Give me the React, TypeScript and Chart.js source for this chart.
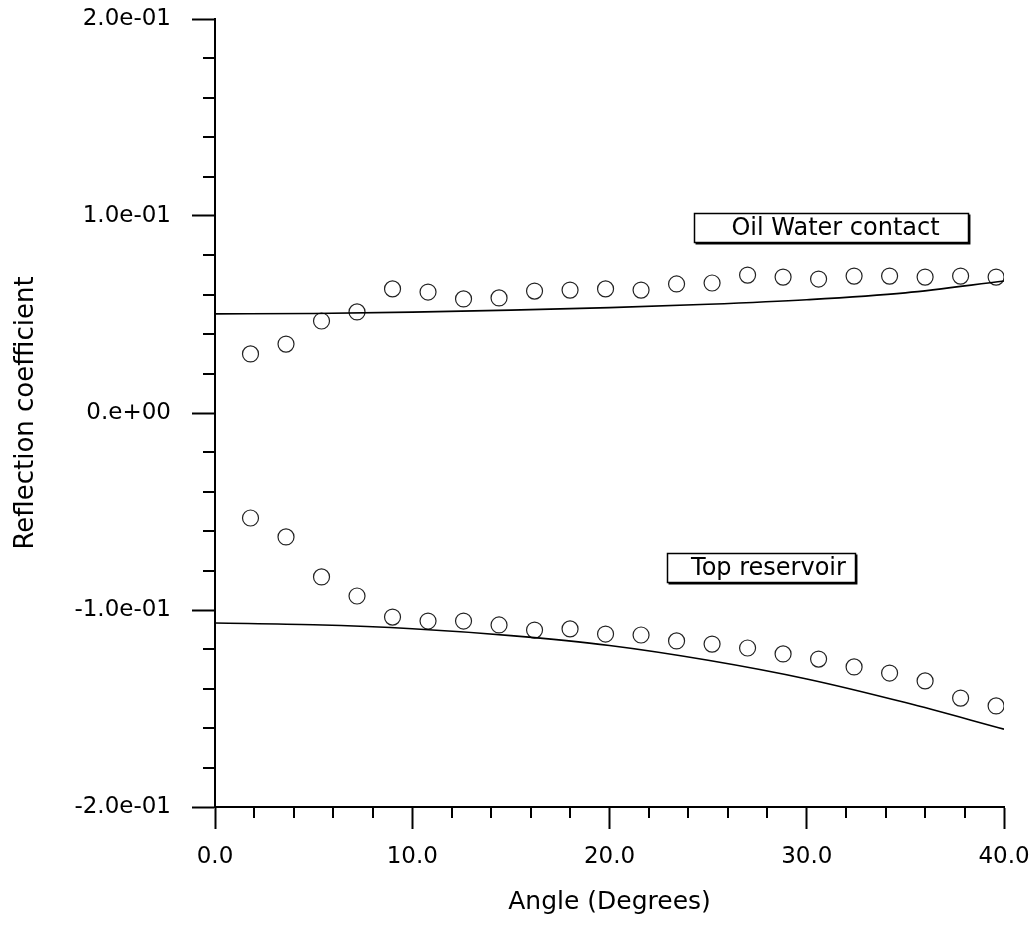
import React, { useEffect, useRef } from "react";
import { Chart, registerables } from "chart.js";

Chart.register(...registerables);

// Measured angles (degrees)
const angles = [1.8, 3.6, 5.4, 7.2, 9.0, 10.8, 12.6, 14.4, 16.2, 18.0, 19.8, 21.6, 23.4, 25.2, 27.0, 28.8, 30.6, 32.4, 34.2, 36.0, 37.8, 39.6];
// Measured reflection coefficients: Oil Water contact
const owcMeasured = [0.030, 0.035, 0.0467, 0.0513, 0.063, 0.0614, 0.0579, 0.0584, 0.0619, 0.0624, 0.063, 0.0624, 0.0655, 0.066, 0.070, 0.069, 0.068, 0.0695, 0.0695, 0.069, 0.0695, 0.069];
// Measured reflection coefficients: Top reservoir
const topMeasured = [-0.0533, -0.0629, -0.0832, -0.0929, -0.1036, -0.1056, -0.1056, -0.1076, -0.1102, -0.1096, -0.1122, -0.1127, -0.1157, -0.1173, -0.1193, -0.1223, -0.1249, -0.1289, -0.132, -0.136, -0.1447, -0.1487];

// Model curves
const modelAngles = [0, 5, 10, 15, 20, 25, 30, 35, 40];
const owcModel = [0.0503, 0.0505, 0.0512, 0.0522, 0.0535, 0.0552, 0.0575, 0.061, 0.067];
const topModel = [-0.1066, -0.1075, -0.1095, -0.113, -0.118, -0.1255, -0.135, -0.147, -0.1605];

// Axis tick labels
const xTickLabels: Record<string, string> = { "0": "0.0", "10": "10.0", "20": "20.0", "30": "30.0", "40": "40.0" };
const yTickLabels: Record<string, string> = { "0.2": "2.0e-01", "0.1": "1.0e-01", "0": "0.e+00", "-0.1": "-1.0e-01", "-0.2": "-2.0e-01" };

// Text annotations (anchor = top-left corner of box, in data units)
const annotationTexts = ["Oil Water contact", "Top reservoir"];
const annotationX = [24.28, 22.92];
const annotationY = [0.1015, -0.0711];
const annotationBoxW = [274, 188];
const annotationTextDx = [4, 7];

const FONT = "'DejaVu Sans', sans-serif";

const minorTicksPlugin = {
  id: "minorTicks",
  afterDraw(chart: any) {
    const ctx = chart.ctx;
    const xs = chart.scales.x;
    const ys = chart.scales.y;
    ctx.save();
    ctx.strokeStyle = "#000";
    ctx.lineWidth = 2;
    ctx.beginPath();
    for (let v = 0; v <= 40; v += 2) {
      if (v % 10 === 0) continue;
      const px = Math.round(xs.getPixelForValue(v));
      ctx.moveTo(px, xs.top);
      ctx.lineTo(px, xs.top + 11);
    }
    for (let i = -10; i <= 10; i++) {
      if (i % 5 === 0) continue;
      const py = Math.round(ys.getPixelForValue(i * 0.02));
      ctx.moveTo(ys.right, py);
      ctx.lineTo(ys.right - 12, py);
    }
    ctx.stroke();

    // annotations
    ctx.font = `24px ${FONT}`;
    ctx.textBaseline = "middle";
    ctx.textAlign = "center";
    for (let i = 0; i < annotationTexts.length; i++) {
      const bx = Math.round(xs.getPixelForValue(annotationX[i])) + 0.5;
      const by = Math.round(ys.getPixelForValue(annotationY[i])) + 0.5;
      const bw = annotationBoxW[i];
      const bh = 29;
      ctx.fillStyle = "#fff";
      ctx.fillRect(bx, by, bw, bh);
      ctx.lineWidth = 1.5;
      ctx.strokeStyle = "#000";
      ctx.strokeRect(bx, by, bw, bh);
      ctx.beginPath();
      ctx.moveTo(bx + bw + 1.2, by + 1);
      ctx.lineTo(bx + bw + 1.2, by + bh + 1.2);
      ctx.lineTo(bx + 1, by + bh + 1.2);
      ctx.stroke();
      ctx.fillStyle = "#000";
      ctx.fillText(annotationTexts[i], bx + bw / 2 + annotationTextDx[i], by + bh / 2 + 1);
    }
    ctx.restore();
  },
};

export default function App() {
  const ref = useRef<HTMLCanvasElement>(null);
  useEffect(() => {
    if (!ref.current) return;
    const toPts = (xs: number[], ys: number[]) => xs.map((x, i) => ({ x, y: ys[i] }));
    const chart = new Chart(ref.current, {
      type: "scatter",
      data: {
        datasets: [
          {
            label: "OWC model",
            data: toPts(modelAngles, owcModel),
            showLine: true,
            borderColor: "#000",
            borderWidth: 1.6,
            pointRadius: 0,
            cubicInterpolationMode: "monotone",
          },
          {
            label: "Top model",
            data: toPts(modelAngles, topModel),
            showLine: true,
            borderColor: "#000",
            borderWidth: 1.6,
            pointRadius: 0,
            cubicInterpolationMode: "monotone",
          },
          {
            label: "OWC measured",
            data: toPts(angles, owcMeasured),
            showLine: false,
            pointRadius: 8,
            pointBorderWidth: 1.2,
            pointBorderColor: "#222",
            pointBackgroundColor: "rgba(0,0,0,0)",
          },
          {
            label: "Top measured",
            data: toPts(angles, topMeasured),
            showLine: false,
            pointRadius: 8,
            pointBorderWidth: 1.2,
            pointBorderColor: "#222",
            pointBackgroundColor: "rgba(0,0,0,0)",
          },
        ],
      },
      options: {
        responsive: false,
        animation: false,
        layout: { padding: { top: 19, right: 32, left: 0, bottom: 0 } },
        plugins: { legend: { display: false }, tooltip: { enabled: false } },
        scales: {
          x: {
            type: "linear",
            min: 0,
            max: 40,
            afterFit: (s: any) => { s.height = 119; s.paddingLeft = 0; s.paddingRight = 0; },
            border: { display: true, color: "#000", width: 2 },
            grid: { drawOnChartArea: false, drawTicks: true, tickLength: 22, tickColor: "#000", tickWidth: 2 },
            ticks: {
              stepSize: 10,
              padding: 14,
              color: "#000",
              font: { family: FONT, size: 23 },
              maxRotation: 0,
              callback: (v: any) => xTickLabels[String(v)] ?? "",
            },
            title: {
              display: true,
              text: "Angle (Degrees)",
              color: "#000",
              font: { family: FONT, size: 25 },
              padding: { top: 0, bottom: 9 },
            },
          },
          y: {
            type: "linear",
            min: -0.2,
            max: 0.2,
            afterFit: (s: any) => { s.width = 215; s.paddingTop = 0; s.paddingBottom = 0; },
            border: { display: true, color: "#000", width: 2 },
            grid: { drawOnChartArea: false, drawTicks: true, tickLength: 23, tickColor: "#000", tickWidth: 2 },
            ticks: {
              stepSize: 0.1,
              padding: 21,
              color: "#000",
              font: { family: FONT, size: 23 },
              callback: (v: any) => yTickLabels[String(Math.round(Number(v) * 10) / 10)] ?? "",
            },
            title: {
              display: true,
              text: "Reflection coefficient",
              color: "#000",
              font: { family: FONT, size: 26 },
              padding: { top: 11, bottom: 0 },
            },
          },
        },
      },
      plugins: [minorTicksPlugin],
    } as any);
    return () => chart.destroy();
  }, []);
  return (
    <div style={{ position: "absolute", left: 0, top: 0, width: 1036, height: 926, background: "#fff" }}>
      <canvas ref={ref} width={1036} height={926} />
    </div>
  );
}
